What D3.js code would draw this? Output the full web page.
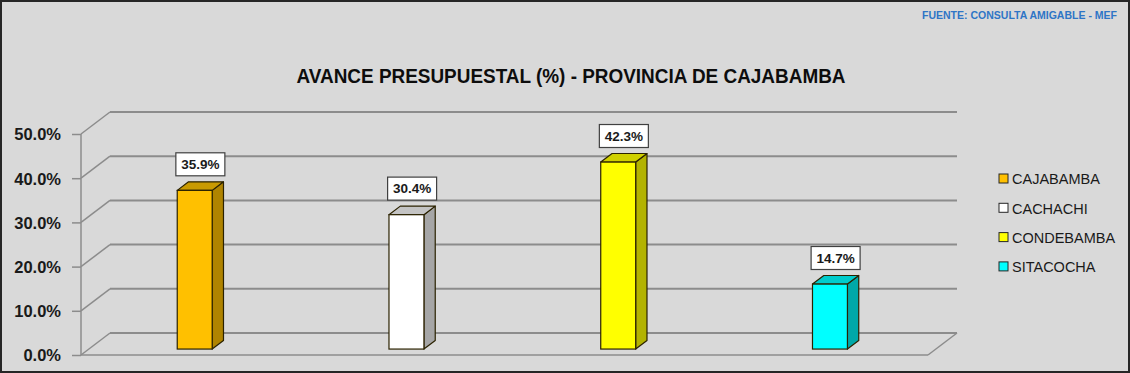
<!DOCTYPE html>
<html>
<head>
<meta charset="utf-8">
<script src="https://cdn.jsdelivr.net/npm/d3@7"></script>
<style>
  body { margin: 0; background: #d9d9d9; }
  svg { display: block; }
</style>
</head>
<body>
<svg id="chart"></svg>
<script>
// data
const categories = ["CAJABAMBA", "CACHACHI", "CONDEBAMBA", "SITACOCHA"];
const values = [35.9, 30.4, 42.3, 14.7];
const tickValues = [0, 10, 20, 30, 40, 50];
const title = "AVANCE PRESUPUESTAL (%) - PROVINCIA DE CAJABAMBA";
const source = "FUENTE: CONSULTA AMIGABLE - MEF";

// colours per category: front, side, top
const palette = [
  { front: "#ffc000", side: "#b08400", top: "#c99a00" },
  { front: "#ffffff", side: "#a6a6a6", top: "#c4c4c4" },
  { front: "#ffff00", side: "#b3b300", top: "#d0d000" },
  { front: "#00ffff", side: "#00a8a8", top: "#00cccc" }
];

const width = 1130, height = 373;
const plot = { left: 81, right: 928, top: 134, bottom: 355 };
const depthX = 29, depthY = 22;      // depth of floor / back wall
const barF0 = 0.27, barF1 = 0.66;    // bar depth fraction (front, back)

const svg = d3.select("#chart").attr("width", width).attr("height", height);

// background + frame
svg.append("rect")
  .attr("x", 1).attr("y", 1)
  .attr("width", width - 2).attr("height", height - 2)
  .attr("fill", "#d9d9d9")
  .attr("stroke", "#262626")
  .attr("stroke-width", 2);

// scales
const yScale = d3.scaleLinear()
  .domain([0, 50])
  .range([plot.bottom, plot.top]);

const xScale = d3.scaleBand()
  .domain(categories)
  .range([plot.left + depthX * barF0, plot.right + depthX * barF0])
  .paddingInner(0.835)
  .paddingOuter(0.835 / 2);

const gridColor = "#8c8c8c";
const grid = svg.append("g");

// back wall gridlines + side diagonals
tickValues.forEach(t => {
  const y = yScale(t);
  grid.append("line")
    .attr("x1", plot.left + depthX).attr("y1", y - depthY)
    .attr("x2", plot.right + depthX).attr("y2", y - depthY)
    .attr("stroke", gridColor).attr("stroke-width", 2);
  grid.append("line")
    .attr("x1", plot.left).attr("y1", y)
    .attr("x2", plot.left + depthX).attr("y2", y - depthY)
    .attr("stroke", gridColor).attr("stroke-width", 1.5);
});

// floor front edge + right diagonal
grid.append("line")
  .attr("x1", plot.left).attr("y1", plot.bottom)
  .attr("x2", plot.right).attr("y2", plot.bottom)
  .attr("stroke", gridColor).attr("stroke-width", 1.5);
grid.append("line")
  .attr("x1", plot.right).attr("y1", plot.bottom)
  .attr("x2", plot.right + depthX).attr("y2", plot.bottom - depthY)
  .attr("stroke", gridColor).attr("stroke-width", 1.5);

// y axis
const yAxis = svg.append("g")
  .attr("transform", `translate(${plot.left},0)`)
  .call(d3.axisLeft(yScale)
    .tickValues(tickValues)
    .tickSize(9)
    .tickPadding(11)
    .tickFormat(d => d.toFixed(1) + "%"));
yAxis.select(".domain")
  .attr("d", `M0,${plot.top}V${plot.bottom}`)
  .attr("stroke", gridColor).attr("stroke-width", 1.5);
yAxis.selectAll(".tick line").attr("stroke", gridColor).attr("stroke-width", 1.5);
yAxis.selectAll(".tick text")
  .attr("font-family", "'Liberation Sans', Arial, sans-serif")
  .attr("font-size", 16.5)
  .attr("font-weight", "bold")
  .attr("fill", "#1a1a1a")
  .attr("dy", "0.36em");

// 3D bars
const bw = xScale.bandwidth();
const bdx = depthX * (barF1 - barF0), bdy = depthY * (barF1 - barF0);
const barStroke = "#2b2200";

const bars = svg.append("g").selectAll("g")
  .data(categories.map((c, i) => ({ cat: c, value: values[i], col: palette[i] })))
  .join("g");

bars.each(function (d) {
  const g = d3.select(this);
  const x0 = xScale(d.cat);
  const yTop = yScale(d.value) - depthY * barF0;
  const yBot = yScale(0) - depthY * barF0;
  // side
  g.append("path")
    .attr("d", `M${x0 + bw},${yTop} L${x0 + bw + bdx},${yTop - bdy} L${x0 + bw + bdx},${yBot - bdy} L${x0 + bw},${yBot} Z`)
    .attr("fill", d.col.side).attr("stroke", barStroke).attr("stroke-width", 1.2)
    .attr("stroke-linejoin", "round");
  // top
  g.append("path")
    .attr("d", `M${x0},${yTop} L${x0 + bdx},${yTop - bdy} L${x0 + bw + bdx},${yTop - bdy} L${x0 + bw},${yTop} Z`)
    .attr("fill", d.col.top).attr("stroke", barStroke).attr("stroke-width", 1.2)
    .attr("stroke-linejoin", "round");
  // front
  g.append("rect")
    .attr("x", x0).attr("y", yTop)
    .attr("width", bw).attr("height", yBot - yTop)
    .attr("fill", d.col.front).attr("stroke", barStroke).attr("stroke-width", 1.2);

  // value label
  const cx = x0 + (bw + bdx) / 2;
  const boxW = 49, boxH = 23;
  const boxBottom = yTop - bdy - 6;
  g.append("rect")
    .attr("x", cx - boxW / 2).attr("y", boxBottom - boxH)
    .attr("width", boxW).attr("height", boxH)
    .attr("fill", "#ffffff").attr("stroke", "#404040").attr("stroke-width", 1.2);
  g.append("text")
    .attr("x", cx).attr("y", boxBottom - boxH / 2)
    .attr("dy", "0.36em")
    .attr("text-anchor", "middle")
    .attr("font-family", "'Liberation Sans', Arial, sans-serif")
    .attr("font-size", 13.5)
    .attr("font-weight", "bold")
    .attr("fill", "#1a1a1a")
    .text(d.value.toFixed(1) + "%");
});

// legend
const legend = svg.append("g").attr("transform", "translate(999,179)");
const rows = legend.selectAll("g")
  .data(categories)
  .join("g")
  .attr("transform", (d, i) => `translate(0,${i * 29.3})`);
rows.append("rect")
  .attr("x", 0).attr("y", -5)
  .attr("width", 9).attr("height", 9)
  .attr("fill", (d, i) => palette[i].front)
  .attr("stroke", "#262626").attr("stroke-width", 1);
rows.append("text")
  .attr("x", 13).attr("y", 0)
  .attr("dy", "0.36em")
  .attr("font-family", "'Liberation Sans', Arial, sans-serif")
  .attr("font-size", 14.5)
  .attr("fill", "#1a1a1a")
  .text(d => d);

// title
svg.append("text")
  .attr("x", 571).attr("y", 83)
  .attr("text-anchor", "middle")
  .attr("font-family", "'Liberation Sans', Arial, sans-serif")
  .attr("font-size", 20.5)
  .attr("font-weight", "bold")
  .attr("fill", "#0d0d0d")
  .attr("textLength", 549)
  .attr("lengthAdjust", "spacingAndGlyphs")
  .text(title);

// source note
svg.append("text")
  .attr("x", 1117).attr("y", 19)
  .attr("text-anchor", "end")
  .attr("font-family", "'Liberation Sans', Arial, sans-serif")
  .attr("font-size", 10.5)
  .attr("font-weight", "bold")
  .attr("fill", "#2e75c6")
  .attr("textLength", 195)
  .attr("lengthAdjust", "spacingAndGlyphs")
  .text(source);
</script>
</body>
</html>
